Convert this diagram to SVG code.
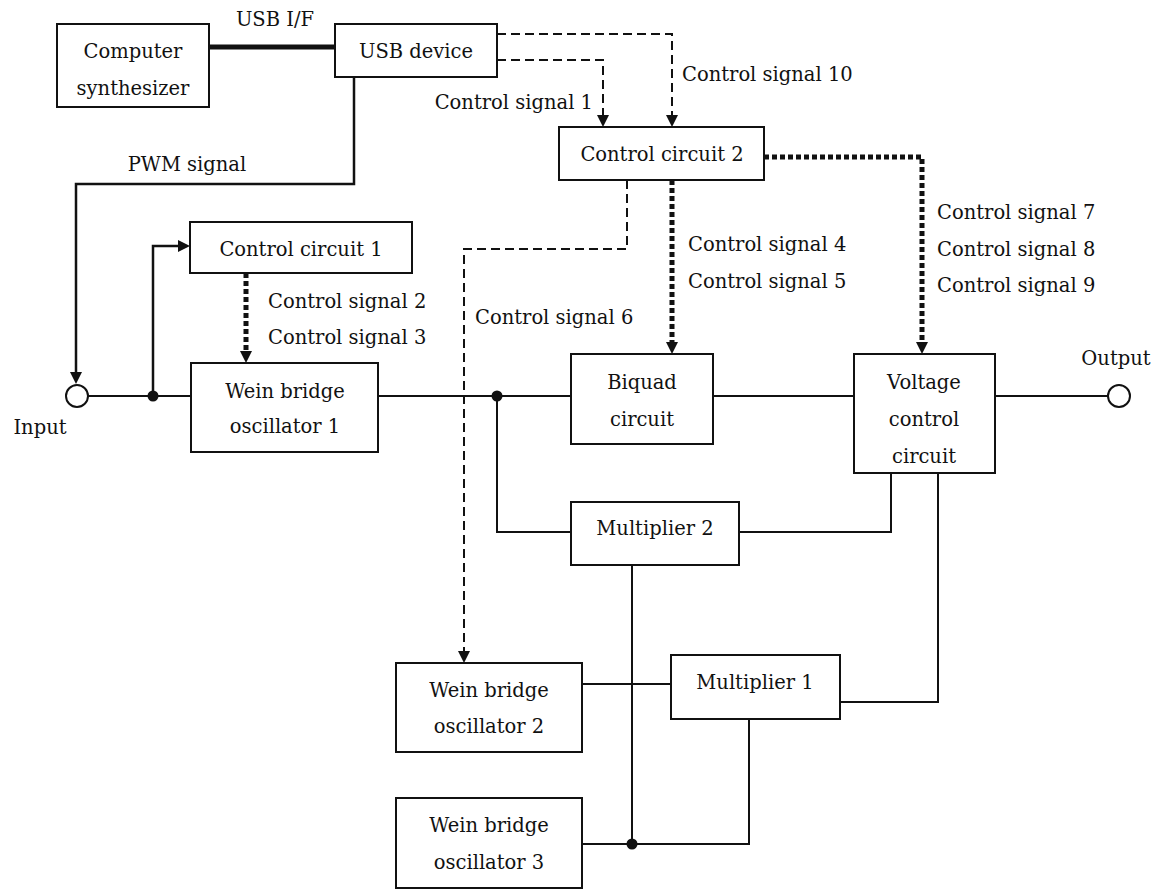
<svg xmlns="http://www.w3.org/2000/svg" width="1161" height="891" viewBox="0 0 1161 891">
<style>
.box{fill:#fff;stroke:#111;stroke-width:2}
.t{font-family:"DejaVu Serif","Liberation Serif",serif;font-size:19.5px;fill:#111}
.m{text-anchor:middle}
.ln{fill:none;stroke:#111;stroke-width:2}
.pw{fill:none;stroke:#111;stroke-width:2.5}
.usb{fill:none;stroke:#111;stroke-width:5}
.da{fill:none;stroke:#111;stroke-width:2;stroke-dasharray:9 5}
.dt{fill:none;stroke:#111;stroke-width:5;stroke-dasharray:5 3}
.dot{fill:#111}
.term{fill:#fff;stroke:#111;stroke-width:2}
</style>
<defs>
<marker id="ah" markerUnits="userSpaceOnUse" markerWidth="12" markerHeight="12" refX="0" refY="6" orient="auto">
<path d="M0,0 L12,6 L0,12 z" fill="#111"/>
</marker>
</defs>
<rect width="1161" height="891" fill="#fff"/>
<g id="connectors">
<path class="usb" d="M209,47 H335"/>
<path class="pw" d="M354,77 V184 H76 V372" marker-end="url(#ah)"/>
<path class="pw" d="M153,396 V246 H178" marker-end="url(#ah)"/>
<path class="ln" d="M88,396 H191"/>
<path class="ln" d="M378,396 H571"/>
<path class="ln" d="M713,396 H854"/>
<path class="ln" d="M995,396 H1108"/>
<path class="ln" d="M497,396 V532 H571"/>
<path class="ln" d="M739,532 H891 V473"/>
<path class="ln" d="M938,473 V702 H840"/>
<path class="ln" d="M632,565 V844"/>
<path class="ln" d="M582,684 H671"/>
<path class="ln" d="M582,844 H749 V719"/>
<circle class="dot" cx="153" cy="396" r="5.5"/>
<circle class="dot" cx="497" cy="396" r="5.5"/>
<circle class="dot" cx="632" cy="844" r="5.5"/>
<path class="da" d="M497,34 H672 V115" marker-end="url(#ah)"/>
<path class="da" d="M497,60 H603 V115" marker-end="url(#ah)"/>
<path class="da" d="M627,180 V249 H464 V651" marker-end="url(#ah)"/>
<path class="dt" d="M764,157 H922 V342" marker-end="url(#ah)"/>
<path class="dt" d="M672,180 V342" marker-end="url(#ah)"/>
<path class="dt" d="M246,273 V351" marker-end="url(#ah)"/>
</g>
<g id="labels">
<text class="t m" x="275" y="26">USB I/F</text>
<text class="t m" x="187" y="171">PWM signal</text>
<text class="t" x="682" y="81">Control signal 10</text>
<text class="t" x="593" y="109" text-anchor="end">Control signal 1</text>
<text class="t" x="268" y="308">Control signal 2</text>
<text class="t" x="268" y="344">Control signal 3</text>
<text class="t" x="688" y="251">Control signal 4</text>
<text class="t" x="688" y="288">Control signal 5</text>
<text class="t" x="475" y="324">Control signal 6</text>
<text class="t" x="937" y="219">Control signal 7</text>
<text class="t" x="937" y="256">Control signal 8</text>
<text class="t" x="937" y="292">Control signal 9</text>
<text class="t m" x="40" y="434">Input</text>
<text class="t m" x="1116" y="365">Output</text>
</g>
<g id="input"><circle class="term" cx="77" cy="396" r="11"/></g>
<g id="output"><circle class="term" cx="1119" cy="396" r="11"/></g>
<g id="computer-synthesizer">
<rect class="box" x="57" y="24" width="152" height="83"/>
<text class="t m" x="133" y="58">Computer</text>
<text class="t m" x="133" y="95">synthesizer</text>
</g>
<g id="usb-device">
<rect class="box" x="335" y="24" width="162" height="53"/>
<text class="t m" x="416" y="58">USB device</text>
</g>
<g id="control-circuit-2">
<rect class="box" x="559" y="127" width="205" height="53"/>
<text class="t m" x="662" y="161">Control circuit 2</text>
</g>
<g id="control-circuit-1">
<rect class="box" x="190" y="222" width="222" height="51"/>
<text class="t m" x="301" y="256">Control circuit 1</text>
</g>
<g id="wein-bridge-1">
<rect class="box" x="191" y="363" width="187" height="89"/>
<text class="t m" x="285" y="398">Wein bridge</text>
<text class="t m" x="285" y="433">oscillator 1</text>
</g>
<g id="biquad">
<rect class="box" x="571" y="354" width="142" height="90"/>
<text class="t m" x="642" y="389">Biquad</text>
<text class="t m" x="642" y="426">circuit</text>
</g>
<g id="voltage-control">
<rect class="box" x="854" y="354" width="141" height="119"/>
<text class="t m" x="924" y="389">Voltage</text>
<text class="t m" x="924" y="426">control</text>
<text class="t m" x="924" y="463">circuit</text>
</g>
<g id="multiplier-2">
<rect class="box" x="571" y="502" width="168" height="63"/>
<text class="t m" x="655" y="535">Multiplier 2</text>
</g>
<g id="multiplier-1">
<rect class="box" x="671" y="655" width="169" height="64"/>
<text class="t m" x="755" y="689">Multiplier 1</text>
</g>
<g id="wein-bridge-2">
<rect class="box" x="396" y="663" width="186" height="89"/>
<text class="t m" x="489" y="697">Wein bridge</text>
<text class="t m" x="489" y="733">oscillator 2</text>
</g>
<g id="wein-bridge-3">
<rect class="box" x="396" y="798" width="186" height="90"/>
<text class="t m" x="489" y="832">Wein bridge</text>
<text class="t m" x="489" y="869">oscillator 3</text>
</g>
</svg>
